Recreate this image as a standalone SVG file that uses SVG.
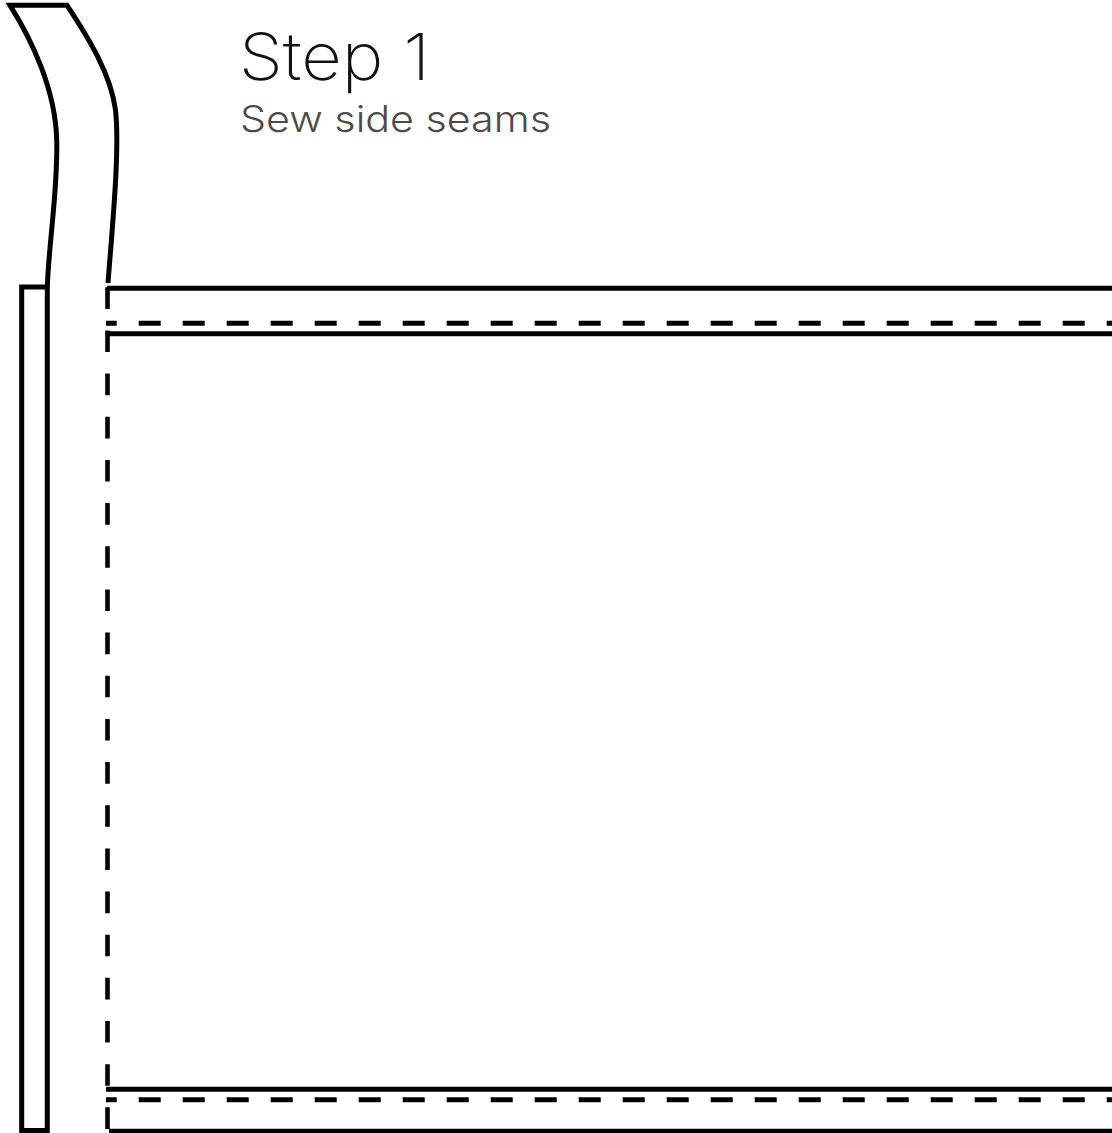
<svg xmlns="http://www.w3.org/2000/svg" width="1112" height="1133" viewBox="0 0 1112 1133">
<style>
.l{fill:none;stroke:#000;stroke-width:5}
.dh{fill:none;stroke:#000;stroke-width:5;stroke-dasharray:22 22;stroke-dashoffset:11.3}
.dv{fill:none;stroke:#000;stroke-width:4.6;stroke-dasharray:21.6 21.56}
text{font-family:Inter,"Liberation Sans",sans-serif}
</style>
<rect width="1112" height="1133" fill="#fff"/>
<g id="strap">
<path class="l" d="M47.3 287C49 240 58 190 56.7 140C55.5 90 32 40 10 5.3H67C90 40 111 75 115.5 110C120 150 112 230 108 283"/>
</g>
<g id="side-panel">
<path class="l" d="M47.3 287H21.7V1130.5H47.3V287"/>
</g>
<g id="bag-body">
<path class="l" d="M107 288.2H1112"/>
<path class="l" d="M107 333.8H1112"/>
<path class="l" d="M106 1089.2H1112"/>
<path class="l" d="M109 1131.3H1112"/>
</g>
<g id="seams">
<path class="dh" d="M106 323.2H1112"/>
<path class="dh" d="M106 1099.7H1112"/>
<path class="dv" d="M107.5 287.3V1133"/>
</g>
<g id="title">
<text x="239" y="80" font-size="65" font-weight="200" textLength="191" lengthAdjust="spacingAndGlyphs" fill="#111">Step 1</text>
<text x="240" y="132" font-size="37" font-weight="300" textLength="311" lengthAdjust="spacingAndGlyphs" fill="#4d4a48">Sew side seams</text>
</g>
</svg>
